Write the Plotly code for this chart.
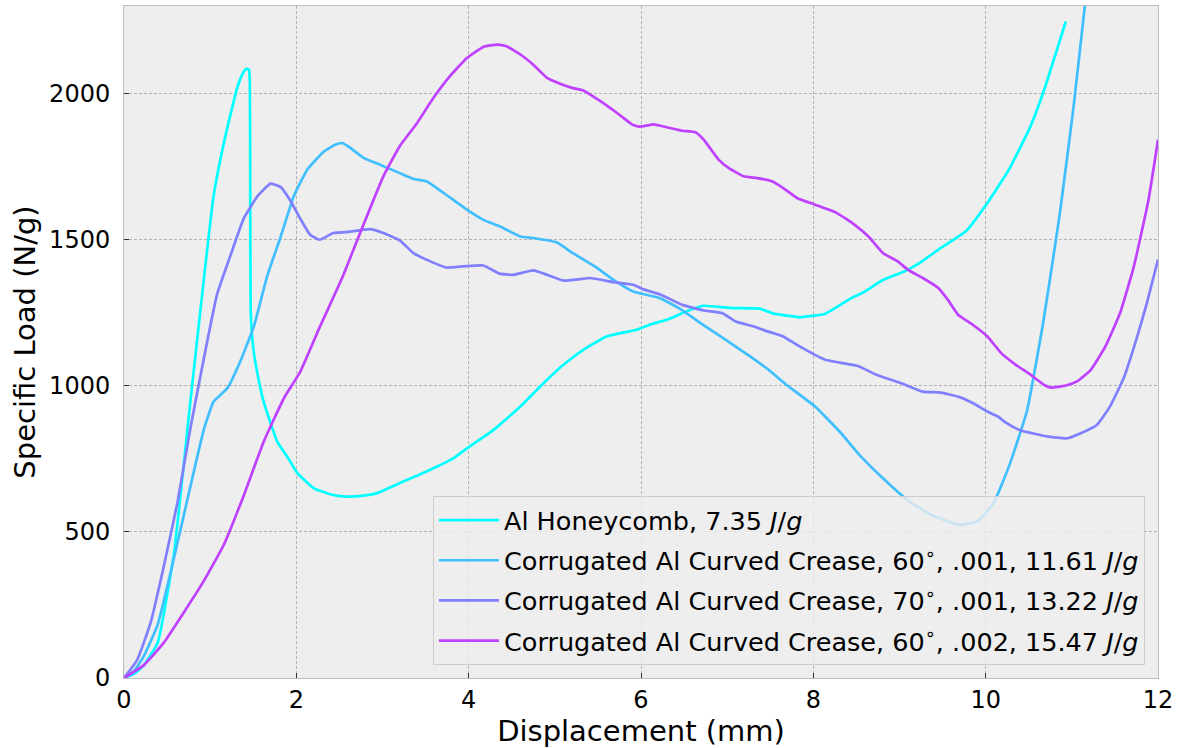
import plotly.graph_objects as go

# Specific load vs. displacement for four crush specimens
honeycomb_x = [0, 0.12, 0.23, 0.39, 0.58, 0.77, 0.93, 1.04, 1.16, 1.31, 1.38, 1.42, 1.45, 1.46, 1.465,
               1.47, 1.50, 1.55, 1.62, 1.78, 1.90, 2.01, 2.20, 2.40, 2.58, 2.80, 2.93, 3.20, 3.51, 3.82,
               3.98, 4.29, 4.60, 4.83, 5.10, 5.33, 5.60, 5.95, 6.10, 6.30, 6.53, 6.72, 7.07, 7.38,
               7.54, 7.70, 7.84, 8.14, 8.44, 8.60, 8.81, 9.06, 9.23, 9.48, 9.77, 10.02, 10.27, 10.52,
               10.68, 10.93]
honeycomb_y = [0, 15, 44, 120, 426, 946, 1374, 1650, 1833, 2016, 2070, 2085, 2082, 2040, 1700,
               1260, 1130, 1040, 946, 808, 755, 702, 650, 628, 621, 625, 632, 667, 707, 752,
               786, 849, 929, 998, 1072, 1123, 1169, 1192, 1209, 1226, 1255, 1274, 1266, 1264,
               1247, 1240, 1235, 1247, 1300, 1323, 1363, 1392, 1420, 1472, 1529, 1626, 1740, 1888,
               2014, 2247]

crease60_001_x = [0, 0.12, 0.23, 0.39, 0.58, 0.77, 0.93, 1.04, 1.20, 1.35, 1.51, 1.66, 1.82, 1.97,
                  2.13, 2.32, 2.45, 2.53, 2.60, 2.78, 2.97, 3.20, 3.36, 3.51, 3.71, 3.98, 4.17,
                  4.36, 4.60, 4.75, 5.02, 5.21, 5.45, 5.68, 5.91, 6.22, 6.44, 6.69, 6.98, 7.27,
                  7.48, 7.69, 8.02, 8.31, 8.54, 8.81, 9.12, 9.39, 9.70, 9.90, 10.09, 10.28, 10.48,
                  10.67, 10.86, 11.02, 11.15, 11.25]
crease60_001_y = [0, 25, 75, 182, 411, 655, 854, 946, 992, 1084, 1206, 1374, 1512, 1649,
                  1741, 1802, 1825, 1831, 1820, 1780, 1757, 1728, 1708, 1700, 1660, 1603, 1568,
                  1546, 1511, 1506, 1491, 1454, 1411, 1363, 1323, 1300, 1266, 1215, 1158, 1100,
                  1055, 1003, 929, 842, 762, 683, 603, 555, 524, 536, 597, 732, 915,
                  1221, 1588, 1955, 2298, 2550]

crease70_001_x = [0, 0.15, 0.31, 0.46, 0.62, 0.77, 0.93, 1.08, 1.24, 1.39, 1.55, 1.70, 1.82, 1.93,
                  2.05, 2.16, 2.27, 2.43, 2.58, 2.85, 3.01, 3.20, 3.36, 3.51, 3.74, 3.94, 4.17,
                  4.36, 4.52, 4.75, 4.91, 5.10, 5.29, 5.41, 5.68, 5.91, 6.02, 6.23, 6.48, 6.73,
                  6.94, 7.10, 7.31, 7.44, 7.65, 7.81, 8.02, 8.14, 8.39, 8.52, 8.73, 9.02, 9.27,
                  9.48, 9.68, 9.85, 10.02, 10.14, 10.24, 10.40, 10.71, 10.94, 11.09, 11.29, 11.44,
                  11.60, 11.75, 11.87, 12.0]
crease70_001_y = [0, 60, 190, 380, 600, 854, 1099, 1313, 1450, 1573, 1649, 1692, 1680, 1634,
                  1570, 1517, 1500, 1523, 1526, 1536, 1523, 1498, 1454, 1432, 1405, 1409, 1412,
                  1384, 1380, 1395, 1380, 1360, 1365, 1369, 1355, 1346, 1331, 1312, 1277, 1258,
                  1249, 1220, 1203, 1189, 1169, 1140, 1106, 1089, 1075, 1068, 1038, 1009, 980,
                  977, 963, 941, 912, 895, 873, 848, 827, 820, 836, 866, 928,
                  1025, 1160, 1282, 1432]

crease60_002_x = [0, 0.23, 0.46, 0.70, 0.93, 1.16, 1.39, 1.62, 1.86, 2.04, 2.27, 2.53, 2.74, 3.01,
                  3.20, 3.40, 3.59, 3.78, 3.98, 4.17, 4.33, 4.44, 4.60, 4.75, 4.91, 5.06, 5.21,
                  5.33, 5.52, 5.73, 5.90, 5.98, 6.15, 6.31, 6.48, 6.63, 6.73, 6.90, 7.02, 7.19,
                  7.35, 7.52, 7.65, 7.81, 8.02, 8.27, 8.48, 8.64, 8.81, 8.98, 9.10, 9.27, 9.45,
                  9.56, 9.68, 9.85, 10.02, 10.18, 10.35, 10.52, 10.68, 10.76, 10.93, 11.06, 11.22,
                  11.39, 11.56, 11.72, 11.89, 12.0]
crease60_002_y = [0, 44, 120, 227, 334, 457, 625, 808, 960, 1045, 1200, 1368, 1523, 1717,
                  1820, 1899, 1985, 2059, 2122, 2160, 2168, 2162, 2134, 2099, 2054, 2034, 2019,
                  2011, 1976, 1932, 1894, 1887, 1895, 1884, 1873, 1868, 1842, 1774, 1745, 1717,
                  1711, 1700, 1677, 1643, 1620, 1592, 1551, 1511, 1454, 1426, 1397, 1369, 1335,
                  1295, 1243, 1209, 1169, 1112, 1072, 1038, 1003, 994, 1001, 1015, 1055,
                  1135, 1249, 1409, 1637, 1842]

series = [
    ("Al Honeycomb, 7.35 <i>J</i>/<i>g</i>", honeycomb_x, honeycomb_y, "#00FFFF"),
    ("Corrugated Al Curved Crease, 60<sup>∘</sup>, .001, 11.61 <i>J</i>/<i>g</i>",
     crease60_001_x, crease60_001_y, "#40BFFF"),
    ("Corrugated Al Curved Crease, 70<sup>∘</sup>, .001, 13.22 <i>J</i>/<i>g</i>",
     crease70_001_x, crease70_001_y, "#8080FF"),
    ("Corrugated Al Curved Crease, 60<sup>∘</sup>, .002, 15.47 <i>J</i>/<i>g</i>",
     crease60_002_x, crease60_002_y, "#BF40FF"),
]

fig = go.Figure()
for i, (name, xs, ys, color) in enumerate(series):
    fig.add_trace(go.Scatter(
        x=xs, y=ys, name=name, mode="lines", legendgroup=f"g{i}",
        line=dict(color=color, width=2.7, shape="spline", smoothing=0.4),
    ))

FONT = "DejaVu Sans"
axis_common = dict(
    showline=True, mirror=True, linecolor="#bcbcbc", linewidth=1,
    showgrid=True, gridcolor="#b2b2b2", gridwidth=0.8, griddash="3px,2px",
    ticks="inside", ticklen=5, tickcolor="#333333", tickwidth=1,
    tickfont=dict(family=FONT, size=24, color="#000000"),
    zeroline=False,
)

fig.update_layout(
    width=1179, height=748,
    margin=dict(l=124, r=21, t=6, b=70),
    paper_bgcolor="#ffffff",
    plot_bgcolor="#eeeeee",
    font=dict(family=FONT, color="#000000"),
    xaxis=dict(
        range=[0, 12], dtick=2, tick0=0,
        title=dict(text="Displacement (mm)", font=dict(family=FONT, size=29), standoff=0),
        ticklabelstandoff=0,
        **axis_common,
    ),
    yaxis=dict(
        range=[0, 2300], dtick=500, tick0=0,
        title=dict(text="Specific Load (N/g)", font=dict(family=FONT, size=29), standoff=4),
        ticklabelstandoff=8,
        **axis_common,
    ),
    legend=dict(
        x=0.9874, y=0.0193, xanchor="right", yanchor="bottom",
        bgcolor="rgba(238,238,238,0.8)", bordercolor="#cccccc", borderwidth=1,
        font=dict(family=FONT, size=25.5, color="#000000"),
        traceorder="grouped", tracegroupgap=4, itemwidth=60,
    ),
    showlegend=True,
)

fig.write_html("out.html")
